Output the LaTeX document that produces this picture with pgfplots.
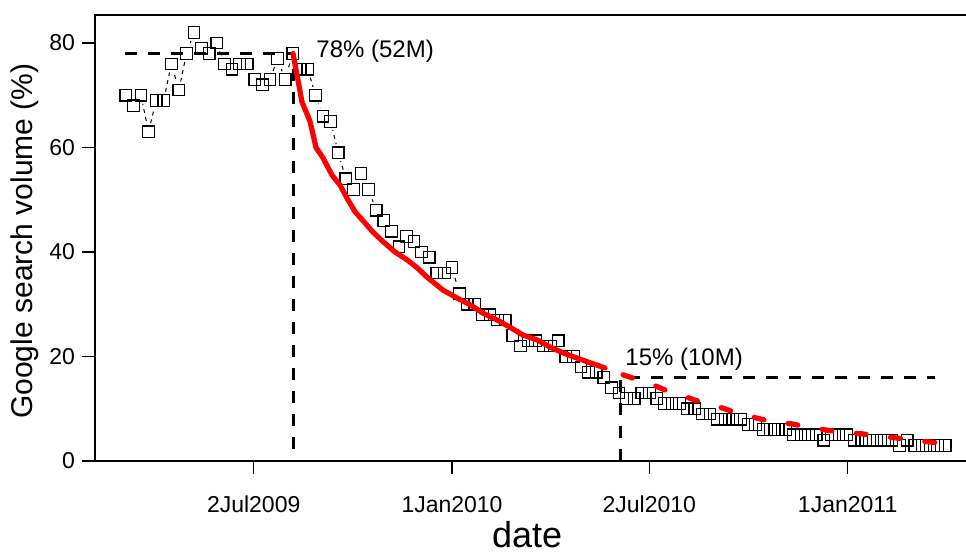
\documentclass[border=0pt]{standalone}
\usepackage{fontspec}
\setmainfont{Liberation Sans}
\usepackage{pgfplots}
\usepackage{pgfplotstable}
\pgfplotsset{compat=1.18}
\pgfplotstableread{
d v
-301 70
-294 68
-287 70
-280 63
-273 69
-266 69
-259 76
-252 71
-245 78
-238 82
-231 79
-224 78
-217 80
-210 76
-203 75
-196 76
-189 76
-182 73
-175 72
-168 73
-161 77
-154 73
-147 78
-140 75
-133 75
-126 70
-119 66
-112 65
-105 59
-98 54
-91 52
-84 55
-77 52
-70 48
-63 46
-56 44
-49 41
-42 43
-35 42
-28 40
-21 39
-14 36
-7 36
0 37
7 32
14 30
21 30
28 28
35 28
42 27
49 27
56 24
63 22
70 23
77 23
84 22
91 22
98 23
105 20
112 20
119 18
126 17
133 17
140 16
147 14
154 13
161 12
168 12
175 13
182 13
189 12
196 11
203 11
210 11
217 10
224 10
231 9
238 9
245 8
252 8
259 8
266 8
273 7
280 7
287 6
294 6
301 6
308 6
315 5
322 5
329 5
336 5
343 4
350 5
357 5
364 5
371 4
378 4
385 4
392 4
399 4
406 4
413 3
420 4
427 3
434 3
441 3
448 3
455 3
}\searchdata
\pgfplotsset{geom/.style={at={(0,0)}, anchor=south west,
 scale only axis, width=440pt, height=223pt,
 xmin=-329.4, xmax=482.5, ymin=0, ymax=85.36, clip=false}}
\begin{document}
\begin{tikzpicture}
\path[use as bounding box] (-47.5pt,-46pt) rectangle (435.5pt,230.5pt);
\begin{axis}[
 geom,
 axis line style={line width=0.6pt},
 tick style={line width=0.6pt, black},
 tick align=outside, major tick length=6.5pt,
 xtick pos=bottom, ytick pos=left,
 xtick={-183,0,182,365},
 xticklabels={2Jul2009,1Jan2010,2Jul2010,1Jan2011},
 ytick={0,20,40,60,80},
 ticklabel style={font=\fontsize{11.5}{13}\selectfont},
 xticklabel style={yshift=-7.5pt},
 /pgf/number format/assume math mode=true,
 xlabel={date},
 ylabel={Google search volume (\%)},
 xlabel style={font=\fontsize{18}{20}\selectfont, at={(axis description cs:0.491,-0.193)}, anchor=base},
 ylabel style={font=\fontsize{15}{17}\selectfont, at={(axis description cs:-0.0795,0.493)}, anchor=center},
]
\addplot[black, line width=0.5pt, dash pattern=on 2pt off 2pt] table[x=d,y=v] {\searchdata};
\addplot[white, only marks, mark=*, mark size=4.2pt, mark options={draw=white, fill=white}] table[x=d,y=v] {\searchdata};
\addplot[black, only marks, mark=square, mark size=2.9pt, mark options={line width=0.6pt, black, fill=none}] table[x=d,y=v] {\searchdata};
\end{axis}
\begin{axis}[geom, hide axis]
\addplot[black, line width=1.5pt, dash pattern=on 6pt off 5.5pt] coordinates {(-301.7,78) (-146.7,78) (-146.7,0)};
\addplot[black, line width=1.5pt, dash pattern=on 6pt off 5.5pt] coordinates {(155,0) (155,16) (445.6,16)};
\addplot[red, line width=2.6pt, line join=round, line cap=round] coordinates {
(-146.7,78.0) (-138.4,68.7) (-131.0,65.0) (-125.5,60.0) (-119.0,58.0) (-110.7,54.7)
(-103.3,52.8) (-96.9,50.3) (-89.5,47.7) (-82.1,46.0) (-72.9,43.8) (-63.7,42.0)
(-52.6,40.0) (-41.5,38.5) (-32.3,37.0) (-23.1,35.2) (-8.3,32.7) (4.6,31.2)
(16.6,29.9) (28.6,28.3) (41.5,27.0) (53.5,25.6) (65.5,24.1) (78.4,23.2)
(90.4,21.8) (102.4,20.7) (115.3,19.7) (127.3,18.8) (141.2,17.8)};
\addplot[red, line width=2.6pt, line cap=round, dash pattern=on 5pt off 12.25pt] coordinates {
(157.8,16.5) (170.7,15.6) (187.3,14.4) (201.1,13.2) (219.6,12.0) (231.6,11.1)
(250.0,10.1) (262.9,9.2) (281.4,8.2) (295.2,7.5) (313.7,7.1) (327.5,6.5)
(346.0,5.9) (359.8,5.5) (378.3,5.2) (392.1,4.8) (410.6,4.4) (424.4,4.0)
(442.8,3.6) (450.2,3.4)};
\node[anchor=base west, inner sep=0pt, font=\fontsize{12}{14}\selectfont] at (axis cs:-125.5,77.3) {78\% (52M)};
\node[anchor=base west, inner sep=0pt, font=\fontsize{12}{14}\selectfont] at (axis cs:159.6,18.2) {15\% (10M)};
\end{axis}
\end{tikzpicture}
\end{document}
